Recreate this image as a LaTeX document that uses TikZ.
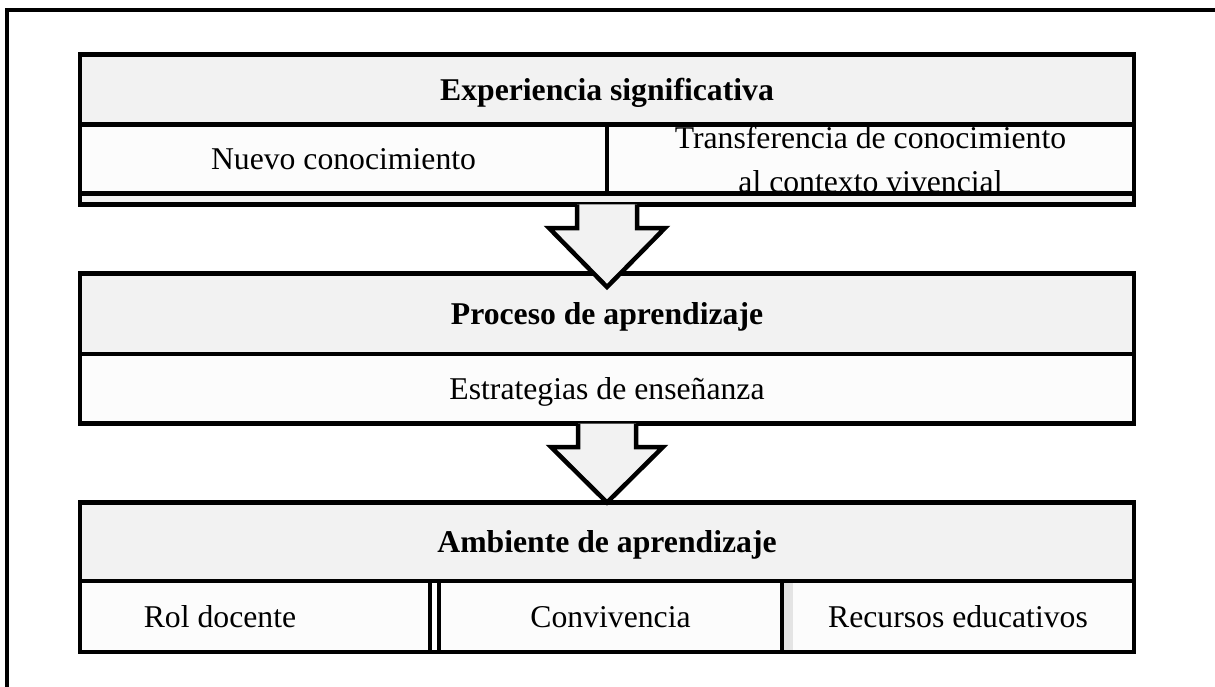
\documentclass[tikz,border=0pt]{standalone}
\usepackage{fontspec}
\setmainfont{Liberation Serif}
\usepackage{tikz}
\usetikzlibrary{positioning,calc}
\definecolor{headgray}{RGB}{242,242,242}
\definecolor{cellwhite}{RGB}{252,252,252}
\definecolor{edgegray}{RGB}{228,228,228}

\begin{document}
\begin{tikzpicture}[x=1pt, y=-1pt,
    every node/.style={font=\fontsize{31.7}{45}\selectfont, inner sep=0pt, outer sep=0pt},
    cell/.style={draw=black, line width=4.5pt, fill=cellwhite, text height=22pt, text depth=0pt, anchor=north west},
    headcell/.style={cell, fill=headgray, font=\fontsize{31.7}{45}\selectfont\bfseries},
    frame/.style={draw=black, line width=4.5pt},
    blockarrow/.style={draw=black, line width=4.5pt, fill=headgray}]
  \useasboundingbox (0,0) rectangle (1215,687);
  \clip (0,0) rectangle (1215,687);

  % Outer frame
  \draw[line width=3.5pt] (7,10) rectangle (1260,720);

  % Experiencia significativa
  \node[headcell, minimum width=1054pt, minimum height=70pt] (exp) at (80,54.5) {Experiencia significativa};
  \node[cell, minimum width=527pt, minimum height=69pt] (nuevo) at (exp.south west) {Nuevo conocimiento};
  \node[cell, minimum width=527pt, minimum height=69pt] (transf) at (nuevo.north east) {};
  \node[align=center, font=\fontsize{31.7}{44}\selectfont] (transftxt) at ($(transf.center)+(0,0.5)$) {Transferencia de conocimiento\\al contexto vivencial};
  \node[cell, fill=headgray, minimum width=1054pt, minimum height=11pt, text height=0pt] (expbase) at (nuevo.south west) {};
  \draw[frame] (exp.north west) rectangle (expbase.south east);

  % Proceso de aprendizaje
  \node[headcell, minimum width=1054pt, minimum height=80.5pt] (proc) at (80,273.5) {Proceso de aprendizaje};
  \node[cell, minimum width=1054pt, minimum height=69.5pt] (estr) at (proc.south west) {Estrategias de enseñanza};
  \draw[frame] (proc.north west) rectangle (estr.south east);

  % Arrow 1
  \draw[blockarrow] ($(expbase.south)+(-30,0)$) -- ++(0,23.5) -- ++(-28,0)
    -- ($(proc.north)+(0,13.5)$) -- ++(58,-59) -- ++(-28,0) -- ($(expbase.south)+(30,0)$);

  % Ambiente de aprendizaje
  \node[headcell, minimum width=1054pt, minimum height=78.5pt] (amb) at (80,502.5) {Ambiente de aprendizaje};
  \node[cell, minimum width=350pt, minimum height=71pt] (rol) at (amb.south west) {};
  \node[text height=22pt, text depth=0pt] (roltxt) at ($(rol.west)+(140,0)$) {Rol docente};
  \node[cell, minimum width=343pt, minimum height=71pt] (conv) at ($(rol.north east)+(9,0)$) {Convivencia};
  \node[cell, minimum width=352pt, minimum height=71pt] (recur) at (conv.north east) {Recursos educativos};
  \fill[edgegray] ($(recur.north west)+(2.25,2.25)$) rectangle ($(recur.south west)+(11,-2.25)$);
  \draw[frame] (amb.north west) rectangle (recur.south east);

  % Arrow 2
  \draw[blockarrow] ($(estr.south)+(-29,0)$) -- ++(0,23.5) -- ++(-27,0)
    -- (amb.north) -- ++(56,-55.5) -- ++(-27,0) -- ($(estr.south)+(29,0)$);
\end{tikzpicture}
\end{document}
